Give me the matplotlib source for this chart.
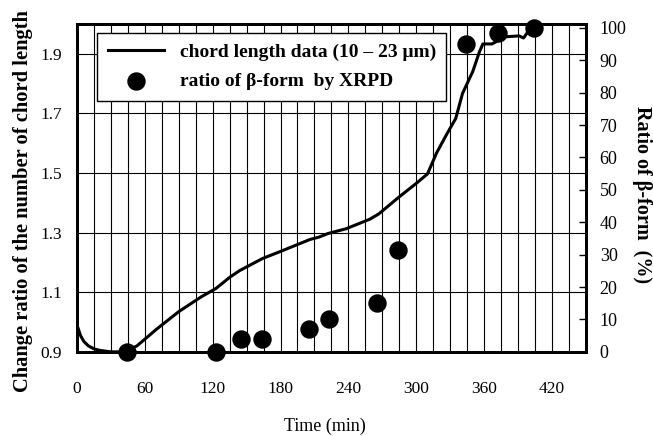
import matplotlib
matplotlib.use("Agg")
import matplotlib.pyplot as plt
import numpy as np

# Chord length data: time (min) vs change ratio of the number of chord length
chord_time = [0, 3, 6, 10, 15, 20, 30, 40, 45, 53, 70, 90, 110, 117, 123, 135, 144,
              164, 182, 206, 214, 222, 238, 259, 267, 285, 300, 310, 318, 327, 335,
              341, 350, 356, 359, 367, 379, 391, 395, 400, 405]
chord_ratio = [0.99, 0.955, 0.935, 0.92, 0.91, 0.905, 0.90, 0.90, 0.905, 0.92, 0.975,
               1.035, 1.085, 1.10, 1.113, 1.15, 1.173, 1.213, 1.24, 1.277, 1.285,
               1.297, 1.313, 1.345, 1.363, 1.42, 1.465, 1.497, 1.567, 1.63, 1.683,
               1.767, 1.84, 1.907, 1.933, 1.933, 1.957, 1.96, 1.953, 1.98, 1.985]

# Ratio of beta-form measured by XRPD (%)
xrpd_time = [44, 123, 145, 164, 205, 223, 265, 284, 344, 372, 404]
xrpd_beta = [0, 0, 4, 4, 7, 10, 15, 31.5, 95, 98.5, 100]

x_ticks = list(range(0, 421, 60))
left_ticks = [0.9, 1.1, 1.3, 1.5, 1.7, 1.9]
right_ticks = list(range(0, 101, 10))

serif = ["Liberation Serif", "DejaVu Serif"]
plt.rcParams["font.family"] = serif

fig = plt.figure(figsize=(6.53, 4.36), dpi=100)
ax = fig.add_axes([0.118, 0.193, 0.779, 0.752])
ax2 = ax.twinx()

# grid: vertical every 15 min, horizontal at left ticks
for xv in np.arange(15, 450, 15):
    ax.axvline(xv, color="black", lw=0.8, zorder=1)
for yv in left_ticks[1:]:
    ax.axhline(yv, color="black", lw=0.8, zorder=1)

line, = ax.plot(chord_time, chord_ratio, color="black", lw=2.2, zorder=3,
                label="chord length data (10 – 23 μm)")
dots = ax2.scatter(xrpd_time, xrpd_beta, s=150, color="black", zorder=4,
                   label="ratio of β-form  by XRPD", clip_on=False)

ax.set_xlim(0, 450)
ax.set_ylim(0.9, 2.0)
ax2.set_ylim(0, 101.2)

ax.set_xticks(x_ticks)
ax.set_yticks(left_ticks)
ax.set_yticklabels([f"{v:.1f}" for v in left_ticks])
ax2.set_yticks(right_ticks)
ax.tick_params(axis="y", labelsize=12.5, length=0, pad=11)
ax.tick_params(axis="x", labelsize=12.5, length=0, pad=21)
ax2.tick_params(axis="y", labelsize=13, direction="in", length=5, width=1, pad=10)

for a in (ax, ax2):
    for sp in a.spines.values():
        sp.set_linewidth(2)

ax.set_xlabel("Time (min)", fontsize=13, va="center")
ax.xaxis.set_label_coords(0.488, -0.228)
ax.set_ylabel("Change ratio of the number of chord length", fontsize=14.8,
              fontweight="bold")
ax.yaxis.set_label_coords(-0.087, 0.46)
ax2.set_ylabel("Ratio of β-form  (%)", fontsize=14.5, fontweight="bold",
               rotation=270, va="center")
ax2.yaxis.set_label_coords(1.11, 0.48)

leg = ax2.legend(handles=[line, dots], loc="upper left",
                 bbox_to_anchor=(0.039, 0.973), borderaxespad=0,
                 fancybox=False, edgecolor="black", framealpha=1,
                 prop={"weight": "bold", "size": 14}, handlelength=2.9,
                 borderpad=0.55, labelspacing=0.6)
leg.get_frame().set_linewidth(1)

fig.savefig("out.png", dpi=100)
